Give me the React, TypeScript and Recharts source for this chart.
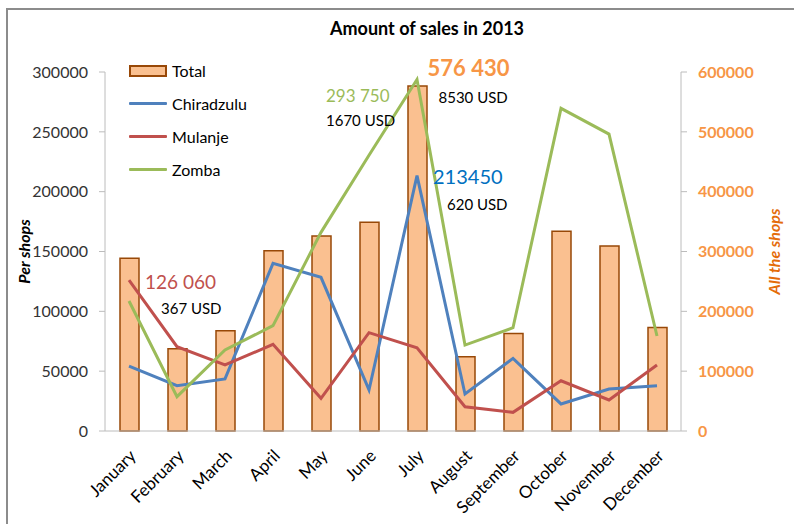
import React from 'react';
import { ComposedChart, Bar, Line, XAxis, YAxis, Legend, LabelList } from 'recharts';

const months = ['January', 'February', 'March', 'April', 'May', 'June', 'July', 'August', 'September', 'October', 'November', 'December'];
const total = [288600, 137600, 167600, 301300, 326000, 349000, 576430, 124000, 163000, 334000, 309000, 173000];
const chiradzulu = [54300, 37900, 43500, 140100, 128400, 34300, 213450, 30900, 60700, 22600, 35100, 37900];
const mulanje = [126060, 70500, 55200, 72400, 27300, 82200, 69600, 20300, 15600, 42000, 25900, 55200];
const zomba = [108600, 28700, 67700, 88000, 166000, 230500, 293750, 71800, 86300, 269600, 248100, 79400];

const leftTicks = [0, 50000, 100000, 150000, 200000, 250000, 300000];
const rightTicks = [0, 100000, 200000, 300000, 400000, 500000, 600000];
const boundaryTicks = [0, 1, 2, 3, 4, 5, 6, 7, 8, 9, 10, 11, 12];

const annotations = [
  { key: 'mulanje', month: 'January', big: '126 060', small: '367 USD' },
  { key: 'zomba', month: 'July', big: '293 750', small: '1670 USD' },
  { key: 'total', month: 'July', big: '576 430', small: '8530 USD' },
  { key: 'chiradzulu', month: 'July', big: '213450', small: '620 USD' },
];

const data = months.map((month, i) => ({
  month,
  total: total[i],
  chiradzulu: chiradzulu[i],
  mulanje: mulanje[i],
  zomba: zomba[i],
}));

const FONT = 'Lato, "Open Sans", sans-serif';
const AXIS = '#bcbcbc';

const annoStyle: Record<string, any> = {
  mulanje: { color: '#c0504d', size: 19, weight: 400, bx: 16, by: 9, sx: 32, sy: 34 },
  zomba: { color: '#9bbb59', size: 17, weight: 400, bx: -91, by: 23, sx: -91, sy: 47 },
  total: { color: '#f79646', size: 22, weight: 700, bx: 10, by: -10, sx: 21, sy: 17 },
  chiradzulu: { color: '#0070c0', size: 20, weight: 400, bx: 16, by: 8, sx: 30, sy: 34 },
};

const legendItems = [
  { name: 'Total', kind: 'rect', color: '#fac090', stroke: '#984807' },
  { name: 'Chiradzulu', kind: 'line', color: '#4f81bd' },
  { name: 'Mulanje', kind: 'line', color: '#c0504d' },
  { name: 'Zomba', kind: 'line', color: '#9bbb59' },
];

const makeAnno = (key: string) => (props: any) => {
  const a = annotations.find((n) => n.key === key);
  if (!a) return null;
  const idx = months.indexOf(a.month);
  const hit = props.index !== undefined ? props.index === idx : props.value === data[idx][key as 'total'];
  if (!hit) return null;
  const s = annoStyle[key];
  const cx = props.width !== undefined ? props.x + props.width / 2 : props.x;
  const cy = props.y;
  return (
    <g fontFamily={FONT}>
      <text x={cx + s.bx} y={cy + s.by} fill={s.color} fontSize={s.size} fontWeight={s.weight}>{a.big}</text>
      <text x={cx + s.sx} y={cy + s.sy} fill="#000" fontSize={15}>{a.small}</text>
    </g>
  );
};

const MonthTick = (props: any) => {
  const { x, y, payload } = props;
  const px = x + 8;
  const py = y + 26;
  return (
    <text x={px} y={py} transform={`rotate(-45 ${px} ${py})`} textAnchor="end" fill="#000" fontSize={17} fontFamily={FONT}>
      {payload.value}
    </text>
  );
};

const renderLegend = () => (
  <div style={{ fontFamily: FONT, fontSize: 16, color: '#000' }}>
    {legendItems.map((it) => (
      <div key={it.name} style={{ display: 'flex', alignItems: 'center', height: 33 }}>
        {it.kind === 'rect' ? (
          <div style={{ width: 34, height: 8, background: it.color, border: `2px solid ${it.stroke}` }} />
        ) : (
          <div style={{ width: 38, height: 3, background: it.color, borderRadius: 1 }} />
        )}
        <span style={{ marginLeft: 5 }}>{it.name}</span>
      </div>
    ))}
  </div>
);

const leftLabel = (props: any) => {
  const vb = props.viewBox;
  const x = vb.x + 23;
  const y = vb.y + vb.height / 2;
  return (
    <text x={x} y={y} transform={`rotate(-90 ${x} ${y})`} textAnchor="middle" dominantBaseline="central" fontFamily={FONT} fontSize={16} fontWeight={700} fontStyle="italic" fill="#000">
      Per shops
    </text>
  );
};

const rightLabel = (props: any) => {
  const vb = props.viewBox;
  const x = vb.x + 92;
  const y = vb.y + vb.height / 2;
  return (
    <text x={x} y={y} transform={`rotate(-90 ${x} ${y})`} textAnchor="middle" dominantBaseline="central" fontFamily={FONT} fontSize={16} fontWeight={700} fontStyle="italic" fill="#e46c0a">
      All the shops
    </text>
  );
};

export default function App() {
  return (
    <div style={{ position: 'absolute', left: 0, top: 0, width: 794, height: 524, overflow: 'hidden', background: '#fff' }}>
      <div style={{ position: 'absolute', left: 6, top: 8, width: 830, height: 560, border: '2px solid #8c8c8c' }} />
      <div style={{ position: 'absolute', left: 227, top: 16, width: 400, textAlign: 'center', fontFamily: FONT, fontSize: 18, fontWeight: 700, lineHeight: '24px', color: '#000' }}>
        Amount of sales in 2013
      </div>
      <div style={{ position: 'absolute', left: 0, top: 0 }}>
        <ComposedChart width={794} height={524} data={data} margin={{ top: 72, right: 33, left: 0, bottom: 23 }}>
          <XAxis xAxisId="bounds" type="number" domain={[0, 12]} ticks={boundaryTicks} height={0} tick={false} axisLine={false} tickLine={{ stroke: AXIS }} tickSize={6} />
          <XAxis dataKey="month" height={70} tick={<MonthTick />} tickLine={false} tickSize={0} tickMargin={0} axisLine={{ stroke: AXIS }} interval={0} />
          <YAxis yAxisId="left" orientation="left" width={105} domain={[0, 300000]} ticks={leftTicks} tickSize={6} tickMargin={11} axisLine={{ stroke: AXIS }} tickLine={{ stroke: AXIS }} tick={{ fill: '#333', fontSize: 16, fontFamily: FONT }} label={leftLabel} />
          <YAxis yAxisId="right" orientation="right" width={80} domain={[0, 600000]} ticks={rightTicks} tickSize={6} tickMargin={11} axisLine={{ stroke: AXIS }} tickLine={{ stroke: AXIS }} tick={{ fill: '#f79646', fontSize: 16, fontFamily: FONT, fontWeight: 700 }} label={rightLabel} />
          <Legend layout="vertical" align="center" verticalAlign="middle" content={renderLegend} wrapperStyle={{ position: 'absolute', left: 129, top: 54, width: 'auto', height: 'auto' }} />
          <Bar yAxisId="right" dataKey="total" name="Total" barSize={19} fill="#fac090" stroke="#984807" strokeWidth={1.5} isAnimationActive={false}>
            <LabelList dataKey="total" content={makeAnno('total')} />
          </Bar>
          <Line yAxisId="left" dataKey="chiradzulu" name="Chiradzulu" stroke="#4f81bd" strokeWidth={3} dot={false} isAnimationActive={false}>
            <LabelList dataKey="chiradzulu" content={makeAnno('chiradzulu')} />
          </Line>
          <Line yAxisId="left" dataKey="mulanje" name="Mulanje" stroke="#c0504d" strokeWidth={3} dot={false} isAnimationActive={false}>
            <LabelList dataKey="mulanje" content={makeAnno('mulanje')} />
          </Line>
          <Line yAxisId="left" dataKey="zomba" name="Zomba" stroke="#9bbb59" strokeWidth={3} dot={false} isAnimationActive={false}>
            <LabelList dataKey="zomba" content={makeAnno('zomba')} />
          </Line>
        </ComposedChart>
      </div>
    </div>
  );
}
